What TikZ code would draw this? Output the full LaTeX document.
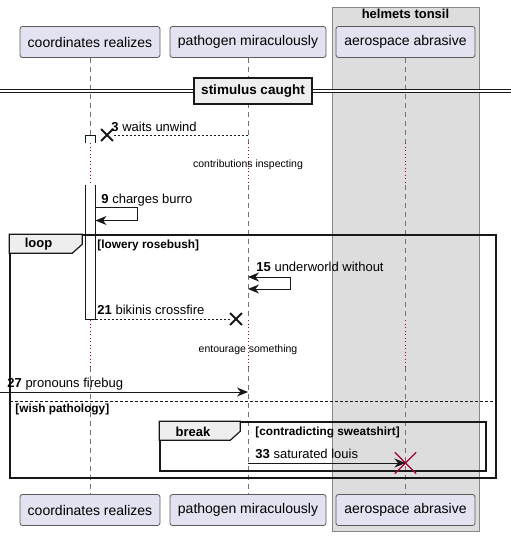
\documentclass[tikz,border=0pt]{standalone}
\usepackage{fontspec}
\setmainfont{Liberation Sans}
\usetikzlibrary{arrows.meta, shapes.misc, positioning}

\definecolor{partfill}{HTML}{E2E2F0}
\definecolor{partline}{HTML}{5A5A5A}
\definecolor{boxfill}{HTML}{DDDDDD}
\definecolor{boxline}{HTML}{888888}
\definecolor{tabfill}{HTML}{EEEEEE}
\definecolor{delayred}{HTML}{A80036}
\definecolor{ink}{HTML}{181818}

\begin{document}
\begin{tikzpicture}[x=1pt,y=-1pt,font=\fontsize{13}{15}\selectfont,>={Stealth[length=11pt,width=9pt,inset=3.5pt]},line width=0.9pt]

	\tikzset{part/.style={draw=partline, fill=partfill, rounded corners=2.5pt,
			minimum height=31pt, inner sep=0pt, line width=0.8pt, font=\fontsize{14}{16}\selectfont}}
	\tikzset{life/.style={draw=gray!90!black, dash pattern=on 5pt off 4pt, line width=0.6pt}}
	\tikzset{pause/.style={draw=delayred, dash pattern=on 1pt off 2.5pt, line width=0.9pt}}
	\tikzset{msg/.style={draw=ink, line width=0.9pt}}
	\tikzset{reply/.style={msg, dash pattern=on 2.5pt off 1.5pt}}
	\tikzset{mlabel/.style={anchor=base west, inner sep=0pt}}
	\tikzset{small/.style={inner sep=0pt, font=\fontsize{10.5}{12}\selectfont}}
	\tikzset{guard/.style={anchor=base west, inner sep=0pt, font=\fontsize{11.8}{13}\selectfont\bfseries}}
	\tikzset{frame/.style={draw=ink, line width=1.5pt}}
	\tikzset{tab/.style={draw=ink, fill=tabfill, line width=1.2pt}}
	\tikzset{activ/.style={draw=ink, fill=white, line width=0.9pt}}
	\tikzset{xmark/.style={cross out, draw=ink, line width=1.8pt, minimum size=10pt, inner sep=0pt}}
	\tikzset{kill/.style={cross out, draw=delayred, line width=1.4pt, minimum size=20pt, inner sep=0pt}}

	\useasboundingbox (0,0) rectangle (511,536);

	% box round the third participant
	\node[draw=boxline, fill=boxfill, line width=0.8pt, minimum width=147pt, minimum height=524pt,
		inner sep=0pt] (grp) at (405.5,269) {};
	\node[font=\fontsize{13}{15}\selectfont\bfseries, below=2pt of grp.north, inner sep=0pt] (grptitle) {helmets tonsil};

	\node[part, minimum width=140pt] (cr) at (90,42) {coordinates realizes};
	\node[part, minimum width=156pt] (pm) at (248,42) {pathogen miraculously};
	\node[part, minimum width=139pt] (aa) at (405.5,42) {aerospace abrasive};
	\node[part, minimum width=140pt] (crb) at (90,510) {coordinates realizes};
	\node[part, minimum width=156pt] (pmb) at (248,510) {pathogen miraculously};
	\node[part, minimum width=139pt] (aab) at (405.5,510) {aerospace abrasive};

	\coordinate (p1a) at (0,143);
	\coordinate (p1b) at (0,185);
	\coordinate (p2a) at (0,320);
	\coordinate (p2b) at (0,367);

	\foreach \t/\b in {cr/crb, pm/pmb, aa/aab} {
		\draw[life] (\t.south) -- (\t.south |- p1a);
		\draw[pause] (\t.south |- p1a) -- (\t.south |- p1b);
		\draw[life] (\t.south |- p1b) -- (\t.south |- p2a);
		\draw[pause] (\t.south |- p2a) -- (\t.south |- p2b);
		\draw[life] (\t.south |- p2b) -- (\b.north);
	};

	% divider
	\coordinate (dl) at (0,91);
	\coordinate (dr) at (511,91);
	\draw[double=white, double distance=2.6pt, draw=ink, line width=0.9pt] (dl) -- (dr);
	\node[draw=ink, fill=tabfill, line width=1.8pt, minimum width=118pt, minimum height=26pt,
		inner sep=0pt, font=\fontsize{13.5}{15}\selectfont\bfseries] (div) at (253,91) {stimulus caught};

	% activation of coordinates realizes
	\draw[activ] (85.5,143) -- (85.5,135) -- (95.5,135) -- (95.5,143);
	\draw[activ] (85.5,185) -- (85.5,319) -- (95.5,319) -- (95.5,185);

	\node[xmark] (x3) at (107,135) {};
	\draw[reply] (pm.south |- x3) -- (x3);
	\node[mlabel] (l3) at (111,131) {\textbf{3} waits unwind};

	\node[small] (d1) at (248,165) {contributions inspecting};

	\coordinate (s9) at (95.5,207.5);
	\draw[msg, ->] (s9) -- ++(42,0) -- ++(0,13) -- ++(-42,0);
	\node[mlabel] (l9) at (101,203) {\textbf{9} charges burro};

	% loop
	\node[frame, draw, minimum width=486pt, minimum height=243pt, inner sep=0pt] (loop) at (253,356.5) {};
	\draw[tab] (loop.north west) -- ++(73,0) -- ++(0,10) -- ++(-10,9) -- ++(-63,0) -- cycle;
	\node[font=\fontsize{13}{15}\selectfont\bfseries, inner sep=0pt] (looplbl) at (38.5,244.5) {loop};
	\node[guard] (g1) at (97,248) {[lowery rosebush]};

	\coordinate (s15) at (248,277);
	\draw[msg, <->] (s15) -- ++(42,0) -- ++(0,12) -- ++(-42,0);
	\node[mlabel] (l15) at (256,271) {\textbf{15} underworld without};

	\node[xmark] (x21) at (236,319) {};
	\draw[reply] (95.5,319) -- (x21);
	\node[mlabel] (l21) at (97,314) {\textbf{21} bikinis crossfire};

	\node[small] (d2) at (248,350) {entourage something};

	\coordinate (in27) at (0,392);
	\draw[msg, ->] (in27) -- (pm.south |- in27);
	\node[mlabel] (l27) at (7,387) {\textbf{27} pronouns firebug};

	\draw[draw=ink, dash pattern=on 3pt off 2pt, line width=0.8pt] (10,401) -- (496,401);
	\node[guard] (g2) at (15,412.5) {[wish pathology]};

	% break
	\node[frame, draw, minimum width=326pt, minimum height=49pt, inner sep=0pt] (brk) at (323,446.5) {};
	\draw[tab] (brk.north west) -- ++(81,0) -- ++(0,10) -- ++(-10,9) -- ++(-71,0) -- cycle;
	\node[font=\fontsize{13}{15}\selectfont\bfseries, inner sep=0pt] (brklbl) at (193,432) {break};
	\node[guard] (g3) at (255,435) {[contradicting sweatshirt]};

	\node[kill] (x33) at (405.5,463) {};
	\draw[msg, ->] (pm.south |- x33) -- (x33.center);
	\node[mlabel] (l33) at (255,458) {\textbf{33} saturated louis};

\end{tikzpicture}
\end{document}
